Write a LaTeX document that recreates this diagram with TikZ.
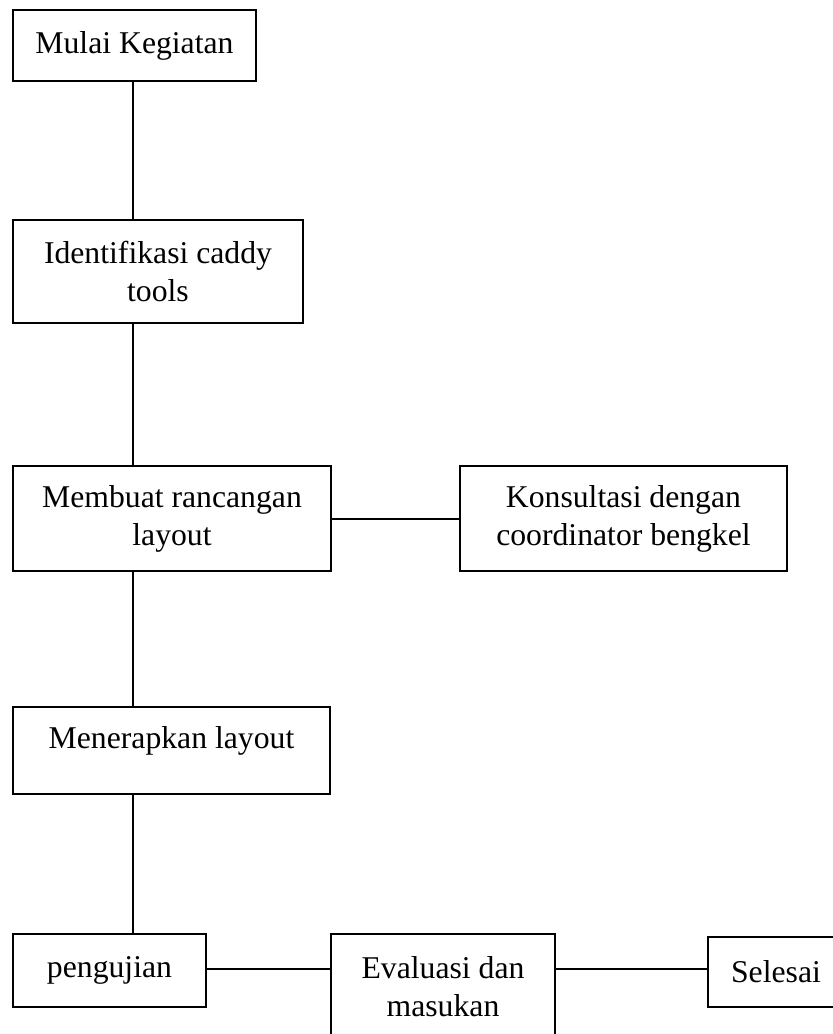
\documentclass[tikz,border=0pt]{standalone}
\usepackage{fontspec}
\setmainfont{Liberation Serif}
\usepackage{tikz}
\usetikzlibrary{positioning, calc}

\begin{document}
\begin{tikzpicture}[
    x=1pt, y=-1pt,
    box/.style={draw, line width=2pt, align=center, inner sep=0pt,
                font=\fontsize{31.7}{38}\selectfont},
    link/.style={line width=2pt}
]
\useasboundingbox (0,0) rectangle (833,1034);

\node[box, minimum width=243pt, minimum height=71pt] (mulai) at (134.5,45.5) {Mulai Kegiatan};
\node[box, minimum width=290pt, minimum height=103pt] (ident) at (158,271.5) {Identifikasi caddy\\tools};
\node[box, minimum width=318pt, minimum height=105pt] (rancang) at (172,518.5) {Membuat rancangan\\layout};
\node[box, minimum width=327pt, minimum height=105pt] (konsul) at (623.5,518.5) {Konsultasi dengan\\coordinator bengkel};
\node[box, minimum width=317pt, minimum height=87pt, text height=22pt, text depth=27pt] (terap) at (171.5,750.5) {Menerapkan layout};
\node[box, minimum width=193pt, minimum height=73pt] (uji) at (109.5,970.5) {pengujian};
\node[box, minimum width=224pt, minimum height=106pt] (eval) at (443,987) {Evaluasi dan\\masukan};
\node[box, minimum width=136pt, minimum height=70pt] (selesai) at (776,972) {Selesai};

% main column
\coordinate (trunk) at (133,0);
\draw[link] (mulai.south -| trunk) -- (ident.north -| trunk);
\draw[link] (ident.south -| trunk) -- (rancang.north -| trunk);
\draw[link] (rancang.south -| trunk) -- (terap.north -| trunk);
\draw[link] (terap.south -| trunk) -- (uji.north -| trunk);

% side links
\draw[link] (rancang.east) -- (konsul.west);
\draw[link] ($(uji.east)+(0,-1.5)$) -- ($(uji.east -| eval.west)+(0,-1.5)$);
\draw[link] ($(uji.east -| eval.east)+(0,-1.5)$) -- ($(uji.east -| selesai.west)+(0,-1.5)$);

\end{tikzpicture}
\end{document}
